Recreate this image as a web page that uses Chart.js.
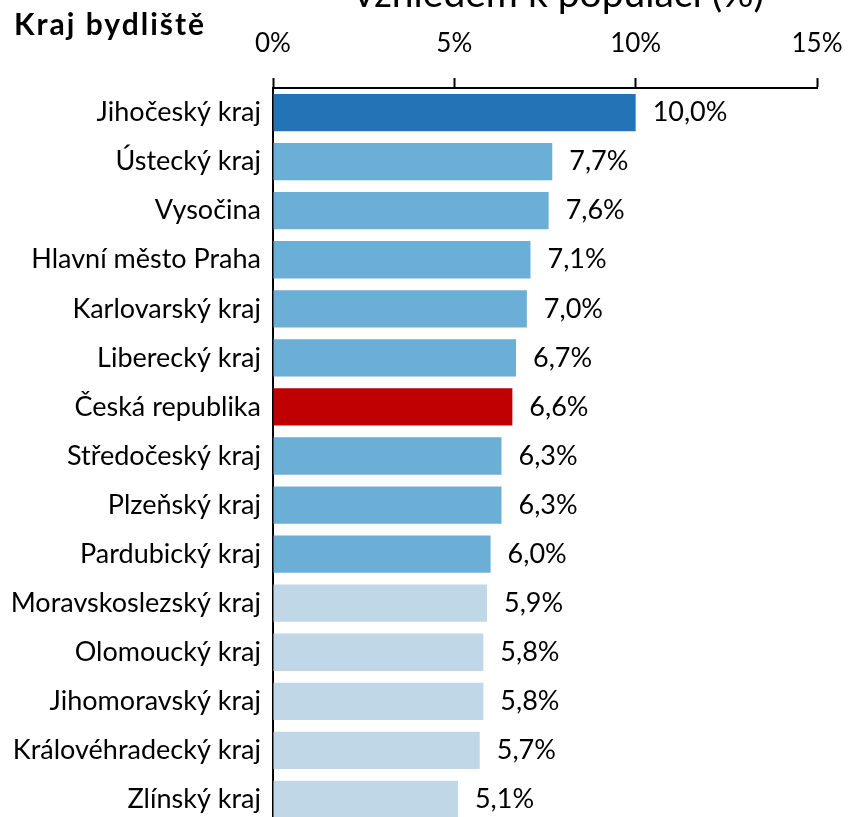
<!DOCTYPE html>
<html>
<head>
<meta charset="utf-8">
<script src="https://cdn.jsdelivr.net/npm/chart.js@4"></script>
<style>
  html,body{margin:0;padding:0;background:#fff;overflow:hidden;}
  canvas{display:block;}
</style>
</head>
<body>
<canvas id="c" width="849" height="824"></canvas>
<script>
/* Kraj bydliště – podíl vzhledem k populaci */

const regions = [
  'Jihočeský kraj','Ústecký kraj','Vysočina','Hlavní město Praha','Karlovarský kraj',
  'Liberecký kraj','Česká republika','Středočeský kraj','Plzeňský kraj','Pardubický kraj',
  'Moravskoslezský kraj','Olomoucký kraj','Jihomoravský kraj','Královéhradecký kraj','Zlínský kraj'
];
const shares = [10.0, 7.7, 7.6, 7.1, 7.0, 6.7, 6.6, 6.3, 6.3, 6.0, 5.9, 5.8, 5.8, 5.7, 5.1];
const groups = ['top','mid','mid','mid','mid','mid','cr','mid','mid','mid','low','low','low','low','low'];
const xTicks = [0, 5, 10, 15];

const FONT = 'Lato, "Open Sans", sans-serif';
const colorOf = { top:'#2373b6', mid:'#6baed6', cr:'#c00000', low:'#bfd7e6' };
const fmtVal = v => v.toFixed(1).replace('.', ',') + '%';

// scales reserve room for their end labels; the layout here is fixed, so drop it
const noPad = s => { s.paddingTop = 0; s.paddingBottom = 0; s.paddingLeft = 0; s.paddingRight = 0; };

const labelsPlugin = {
  id:'valueLabels',
  afterDatasetsDraw(chart){
    const {ctx} = chart;
    const meta = chart.getDatasetMeta(0);
    ctx.save();
    ctx.font = '27px ' + FONT;
    ctx.fillStyle = '#000';
    ctx.textBaseline = 'middle';
    ctx.textAlign = 'left';
    meta.data.forEach((bar, i) => ctx.fillText(fmtVal(shares[i]), bar.x + 17, bar.y));
    ctx.restore();
  }
};

const headingPlugin = {
  id:'headings',
  afterDraw(chart){
    const {ctx} = chart;
    ctx.save();
    ctx.fillStyle = '#000';
    ctx.textBaseline = 'alphabetic';
    ctx.textAlign = 'left';
    ctx.font = 'bold 30px ' + FONT;
    ctx.letterSpacing = '2px';
    ctx.fillText('Kraj bydliště', 14, 35);
    ctx.letterSpacing = '0px';
    ctx.textAlign = 'center';
    ctx.font = '39px ' + FONT;
    ctx.fillText('vzhledem k populaci (%)', 559, 7);
    ctx.restore();
  }
};

new Chart(document.getElementById('c'), {
  type:'bar',
  data:{
    labels: regions,
    datasets:[{
      data: shares,
      backgroundColor: groups.map(g => colorOf[g]),
      borderWidth:0,
      barPercentage:0.76,
      categoryPercentage:1
    }]
  },
  options:{
    indexAxis:'y',
    responsive:false,
    animation:false,
    layout:{ padding:{ left:0, right:32, top:0, bottom:0 } },
    plugins:{ legend:{display:false}, tooltip:{enabled:false} },
    scales:{
      x:{
        position:'top',
        min:0, max:15,
        afterBuildTicks: s => { s.ticks = xTicks.map(v => ({value:v})); },
        afterFit: s => { s.height = 88; noPad(s); },
        ticks:{ callback: v => v + '%', color:'#000', font:{ family:FONT, size:26 }, padding:19, maxRotation:0 },
        grid:{ drawOnChartArea:false, drawTicks:true, tickLength:10, tickColor:'#000', tickWidth:2 },
        border:{ display:true, color:'#000', width:2 }
      },
      y:{
        afterFit: s => { s.width = 273; noPad(s); },
        ticks:{ color:'#000', font:{ family:FONT, size:27 }, padding:12 },
        grid:{ display:false, drawTicks:false },
        border:{ display:true, color:'#000', width:2 }
      }
    }
  },
  plugins:[labelsPlugin, headingPlugin]
});
</script>
</body>
</html>
